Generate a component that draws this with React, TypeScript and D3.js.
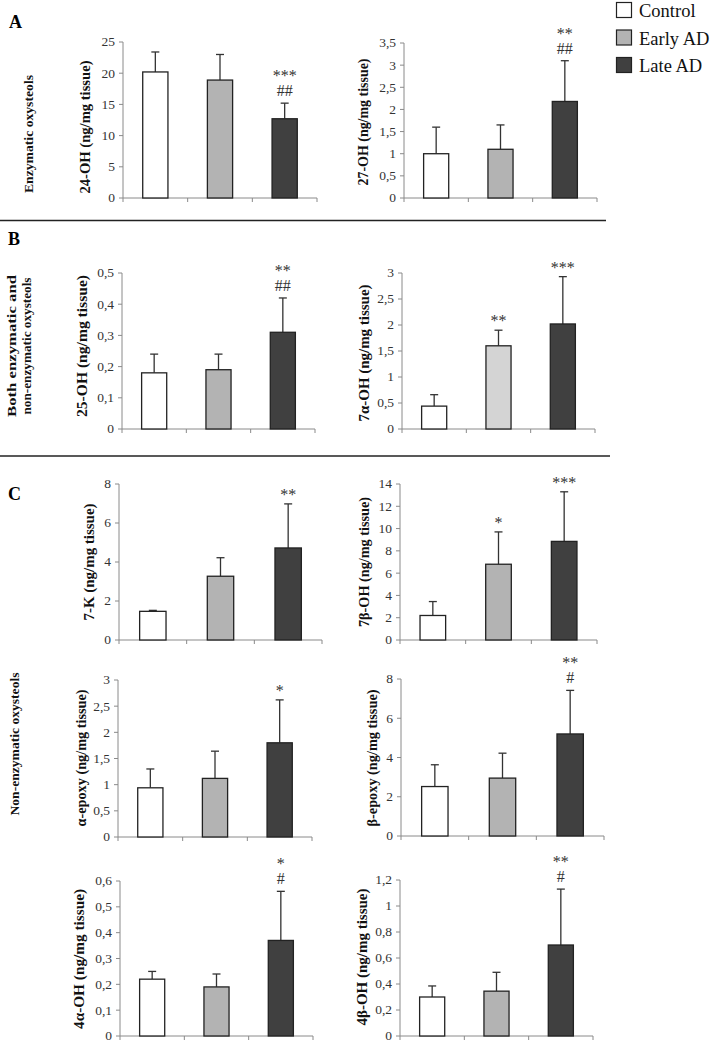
import React from "react";
import * as d3 from "d3";

const groups = ["Control", "Early AD", "Late AD"];

// Values (ng/mg tissue) and standard deviations
const oh24Means = [20.2, 18.9, 12.7];
const oh24Errs = [3.2, 4.1, 2.5];
const oh27Means = [1.0, 1.1, 2.18];
const oh27Errs = [0.6, 0.55, 0.92];
const oh25Means = [0.18, 0.19, 0.31];
const oh25Errs = [0.06, 0.05, 0.11];
const oh7aMeans = [0.44, 1.6, 2.02];
const oh7aErrs = [0.22, 0.3, 0.91];
const k7Means = [1.47, 3.27, 4.72];
const k7Errs = [0.05, 0.95, 2.26];
const oh7bMeans = [2.2, 6.8, 8.85];
const oh7bErrs = [1.25, 2.9, 4.45];
const aEpoxyMeans = [0.94, 1.12, 1.8];
const aEpoxyErrs = [0.36, 0.52, 0.82];
const bEpoxyMeans = [2.52, 2.95, 5.2];
const bEpoxyErrs = [1.11, 1.27, 2.22];
const oh4aMeans = [0.22, 0.19, 0.37];
const oh4aErrs = [0.03, 0.05, 0.19];
const oh4bMeans = [0.3, 0.345, 0.7];
const oh4bErrs = [0.085, 0.145, 0.43];

// Significance marks: [stars, hashes] per group
const oh24Sig = [["", ""], ["", ""], ["***", "##"]];
const oh27Sig = [["", ""], ["", ""], ["**", "##"]];
const oh25Sig = [["", ""], ["", ""], ["**", "##"]];
const oh7aSig = [["", ""], ["**", ""], ["***", ""]];
const k7Sig = [["", ""], ["", ""], ["**", ""]];
const oh7bSig = [["", ""], ["*", ""], ["***", ""]];
const aEpoxySig = [["", ""], ["", ""], ["*", ""]];
const bEpoxySig = [["", ""], ["", ""], ["**", "#"]];
const oh4aSig = [["", ""], ["", ""], ["*", "#"]];
const oh4bSig = [["", ""], ["", ""], ["**", "#"]];

const panels = [
  { label: "24-OH (ng/mg  tissue)", means: oh24Means, errs: oh24Errs, sig: oh24Sig, max: 25, step: 5,
    x0: 123, x1: 317, y0: 198, yT: 42, lx: 85, ly: 127, ll: 133 },
  { label: "27-OH (ng/mg  tissue)", means: oh27Means, errs: oh27Errs, sig: oh27Sig, max: 3.5, step: 0.5,
    x0: 404, x1: 597, y0: 198, yT: 43, lx: 363, ly: 122, ll: 127 },
  { label: "25-OH (ng/mg  tissue)", means: oh25Means, errs: oh25Errs, sig: oh25Sig, max: 0.5, step: 0.1,
    x0: 122, x1: 315, y0: 429, yT: 273, lx: 82, ly: 346, ll: 142 },
  { label: "7α-OH (ng/mg  tissue)", means: oh7aMeans, errs: oh7aErrs, sig: oh7aSig, max: 3, step: 0.5,
    x0: 402, x1: 595, y0: 429, yT: 273, lx: 364, ly: 353, ll: 137, lightEarly: true },
  { label: "7-K (ng/mg  tissue)", means: k7Means, errs: k7Errs, sig: k7Sig, max: 8, step: 2,
    x0: 119, x1: 322, y0: 640, yT: 484, lx: 89, ly: 562, ll: 117 },
  { label: "7β-OH (ng/mg  tissue)", means: oh7bMeans, errs: oh7bErrs, sig: oh7bSig, max: 14, step: 2,
    x0: 400, x1: 597, y0: 640, yT: 484, lx: 364, ly: 562, ll: 130 },
  { label: "α-epoxy  (ng/mg  tissue)", means: aEpoxyMeans, errs: aEpoxyErrs, sig: aEpoxySig, max: 3, step: 0.5,
    x0: 118, x1: 312, y0: 837, yT: 680, lx: 81, ly: 758, ll: 137 },
  { label: "β-epoxy  (ng/mg  tissue)", means: bEpoxyMeans, errs: bEpoxyErrs, sig: bEpoxySig, max: 8, step: 2,
    x0: 401, x1: 604, y0: 836, yT: 679, lx: 372, ly: 758, ll: 137 },
  { label: "4α-OH (ng/mg  tissue)", means: oh4aMeans, errs: oh4aErrs, sig: oh4aSig, max: 0.6, step: 0.1,
    x0: 120, x1: 313, y0: 1036, yT: 881, lx: 79, ly: 959, ll: 140 },
  { label: "4β-OH (ng/mg  tissue)", means: oh4bMeans, errs: oh4bErrs, sig: oh4bSig, max: 1.2, step: 0.2,
    x0: 400, x1: 593, y0: 1036, yT: 880, lx: 362, ly: 957, ll: 137 },
];

const FILLS = ["#ffffff", "#b3b3b3", "#404040"];
const SERIF = "'Liberation Serif', 'Times New Roman', serif";

const fmt = (v: number) => String(+v.toFixed(2)).replace(".", ",");

function Panel({ p }: { p: any }) {
  const x = d3.scaleBand<string>().domain(groups).range([p.x0, p.x1]);
  const y = d3.scaleLinear().domain([0, p.max]).range([p.y0, p.yT]);
  const ticks = d3.range(0, p.max + p.step / 2, p.step);
  const bw = x.bandwidth() * 0.39;
  const bounds = [p.x0, ...groups.map((g) => (x(g) as number) + x.bandwidth())];
  return (
    <g>
      {/* y axis */}
      <line x1={p.x0} x2={p.x0} y1={p.y0} y2={p.yT} stroke="#8a8a8a" strokeWidth={1} />
      {ticks.map((t: number) => (
        <g key={t}>
          <line x1={p.x0 - 4} x2={p.x0} y1={y(t)} y2={y(t)} stroke="#8a8a8a" />
          <text x={p.x0 - 8} y={y(t)} dy="0.33em" textAnchor="end" fontSize={13.5}
            fontFamily={SERIF} fill="#333">{fmt(t)}</text>
        </g>
      ))}
      {/* x axis */}
      <line x1={p.x0} x2={p.x1} y1={p.y0} y2={p.y0} stroke="#8a8a8a" />
      {bounds.map((b, i) => (
        <line key={i} x1={b} x2={b} y1={p.y0} y2={p.y0 + 4} stroke="#8a8a8a" />
      ))}
      {/* bars */}
      {groups.map((g, i) => {
        const cx = (x(g) as number) + x.bandwidth() / 2;
        const top = y(p.means[i]);
        const eTop = y(p.means[i] + p.errs[i]);
        const fill = i === 1 && p.lightEarly ? "#d4d4d4" : FILLS[i];
        const [stars, hash] = p.sig[i];
        return (
          <g key={g}>
            <line x1={cx} x2={cx} y1={top} y2={eTop} stroke="#333" strokeWidth={1.3} />
            <line x1={cx - 4} x2={cx + 4} y1={eTop} y2={eTop} stroke="#333" strokeWidth={1.3} />
            <rect x={cx - bw / 2} y={top} width={bw} height={p.y0 - top} fill={fill}
              stroke="#222" strokeWidth={1.3} />
            {hash && (
              <text x={cx} y={eTop - 7} textAnchor="middle" fontSize={16} fontFamily={SERIF} fill="#333">{hash}</text>
            )}
            {stars && (
              <text x={cx} y={hash ? eTop - 22 : eTop - 4} textAnchor="middle" fontSize={16}
                fontFamily={SERIF} fill="#333">{stars}</text>
            )}
          </g>
        );
      })}
      {/* y label */}
      <text transform={`translate(${p.lx},${p.ly}) rotate(-90)`} textAnchor="middle" dy="0.35em"
        fontSize={14} fontWeight="bold" fontFamily={SERIF} fill="#111"
        textLength={p.ll} lengthAdjust="spacingAndGlyphs">{p.label}</text>
    </g>
  );
}

function VLabel({ x, y, len, text }: { x: number; y: number; len: number; text: string }) {
  return (
    <text transform={`translate(${x},${y}) rotate(-90)`} textAnchor="middle" dy="0.35em"
      fontSize={13} fontWeight="bold" fontFamily={SERIF} fill="#111"
      textLength={len} lengthAdjust="spacingAndGlyphs">{text}</text>
  );
}

export default function App() {
  return (
    <svg width={714} height={1044} style={{ position: "absolute", left: 0, top: 0, background: "#fff" }}>
      <rect width={714} height={1044} fill="#fff" />
      {/* panel letters */}
      <text x={9} y={28} fontSize={18} fontWeight="bold" fontFamily={SERIF}>A</text>
      <text x={8} y={245} fontSize={18} fontWeight="bold" fontFamily={SERIF}>B</text>
      <text x={8} y={500} fontSize={18} fontWeight="bold" fontFamily={SERIF}>C</text>
      {/* separators */}
      <line x1={0} x2={606} y1={220.5} y2={220.5} stroke="#222" strokeWidth={1.5} />
      <line x1={0} x2={610} y1={456} y2={456} stroke="#222" strokeWidth={1.5} />
      {/* group labels */}
      <VLabel x={28} y={134} len={118} text="Enzymatic  oxysteols" />
      <VLabel x={11} y={346} len={142} text="Both  enzymatic  and" />
      <VLabel x={26} y={346} len={137} text="non-enzymatic  oxysteols" />
      <VLabel x={14} y={744} len={143} text="Non-enzymatic  oxysteols" />
      {panels.map((p, i) => (
        <Panel key={i} p={p} />
      ))}
      {/* legend */}
      {groups.map((g, i) => (
        <g key={g}>
          <rect x={616.5} y={2.5 + i * 27.5} width={15} height={15} fill={FILLS[i]} stroke="#222" strokeWidth={1.2} />
          <text x={639} y={17 + i * 27.5} fontSize={18.5} fontFamily={SERIF} fill="#111">{g}</text>
        </g>
      ))}
    </svg>
  );
}
